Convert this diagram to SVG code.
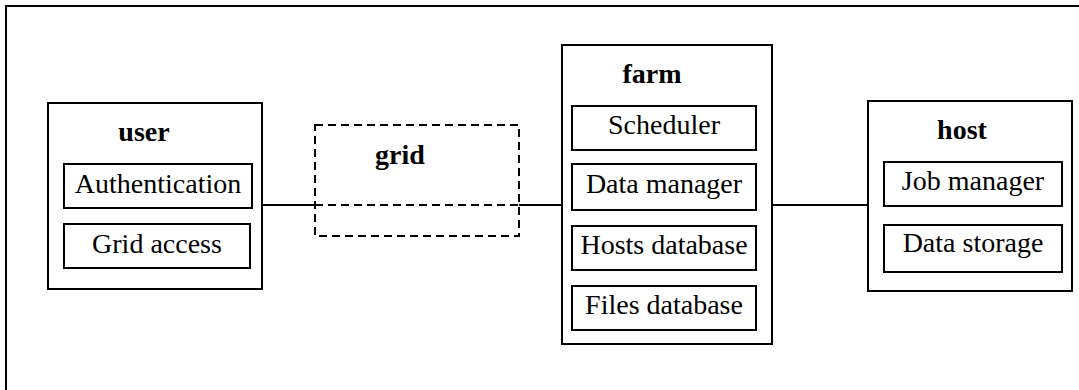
<svg xmlns="http://www.w3.org/2000/svg" width="1079" height="390" viewBox="0 0 1079 390" font-family="Liberation Serif" font-size="28">
<style>
.box{fill:#fff;stroke:#000;stroke-width:2}
.c{stroke:#000;stroke-width:2;fill:none}
.d{stroke-dasharray:8,5}
</style>
<rect width="1079" height="390" fill="#fff"/>
<path class="c" d="M6,390 V6 H1079"/>
<g id="connectors">
<line class="c" x1="262" y1="205" x2="315" y2="205"/>
<line class="c d" x1="315" y1="205" x2="519" y2="205"/>
<line class="c" x1="519" y1="205" x2="562" y2="205"/>
<line class="c" x1="772" y1="205" x2="868" y2="205"/>
</g>
<g id="grid">
<rect class="c d" x="315" y="125" width="204" height="111"/>
<text font-family="Liberation Serif" font-size="28" font-weight="bold" text-anchor="middle" x="400" y="164">grid</text>
</g>
<g id="user">
<rect class="box" x="48" y="103" width="214" height="186"/>
<text font-family="Liberation Serif" font-size="28" font-weight="bold" text-anchor="middle" x="144" y="141">user</text>
<rect class="box" x="64" y="164" width="188" height="44"/>
<text font-family="Liberation Serif" font-size="28" text-anchor="middle" x="158" y="193">Authentication</text>
<rect class="box" x="64" y="224" width="186" height="44"/>
<text font-family="Liberation Serif" font-size="28" text-anchor="middle" x="157" y="253">Grid access</text>
</g>
<g id="farm">
<rect class="box" x="562" y="45" width="210" height="299"/>
<text font-family="Liberation Serif" font-size="28" font-weight="bold" text-anchor="middle" x="652" y="83">farm</text>
<rect class="box" x="572" y="106" width="184" height="44"/>
<text font-family="Liberation Serif" font-size="28" text-anchor="middle" x="664" y="134">Scheduler</text>
<rect class="box" x="572" y="164" width="184" height="46"/>
<text font-family="Liberation Serif" font-size="28" text-anchor="middle" x="664" y="193">Data manager</text>
<rect class="box" x="572" y="226" width="184" height="44"/>
<text font-family="Liberation Serif" font-size="28" text-anchor="middle" x="664" y="254">Hosts database</text>
<rect class="box" x="572" y="286" width="184" height="44"/>
<text font-family="Liberation Serif" font-size="28" text-anchor="middle" x="664" y="314">Files database</text>
</g>
<g id="host">
<rect class="box" x="868" y="101" width="204" height="190"/>
<text font-family="Liberation Serif" font-size="28" font-weight="bold" text-anchor="middle" x="962" y="139">host</text>
<rect class="box" x="884" y="162" width="178" height="44"/>
<text font-family="Liberation Serif" font-size="28" text-anchor="middle" x="973" y="190">Job manager</text>
<rect class="box" x="884" y="225" width="178" height="47"/>
<text font-family="Liberation Serif" font-size="28" text-anchor="middle" x="973" y="252">Data storage</text>
</g>
</svg>
